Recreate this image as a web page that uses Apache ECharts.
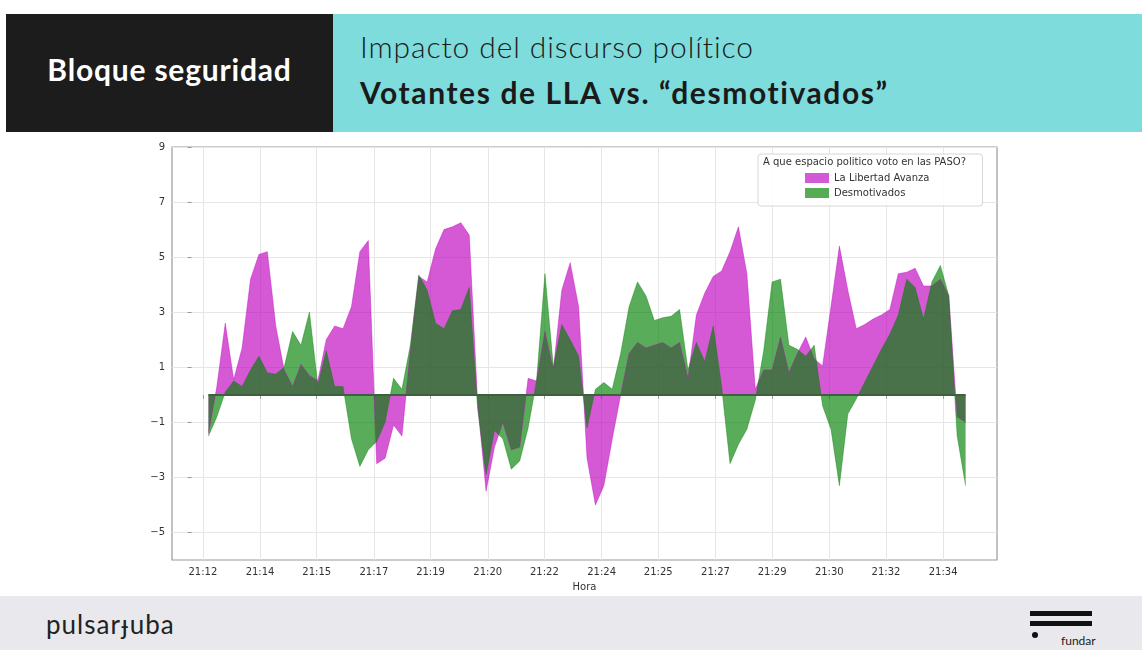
<!DOCTYPE html>
<html>
<head>
<meta charset="utf-8">
<script src="https://cdn.jsdelivr.net/npm/echarts@6/dist/echarts.min.js"></script>
<style>
  html, body { margin: 0; padding: 0; background: #fff; }
  .page { position: relative; width: 1142px; height: 650px; overflow: hidden; background: #fff; }
  .hdr-left { position: absolute; left: 6px; top: 14px; width: 327px; height: 118px; background: #1c1c1c; }
  .hdr-left span { position: absolute; left: 0; right: 0; top: 37px; text-align: center; color: #fff;
    font: 700 30px 'Lato', sans-serif; letter-spacing: 0.8px; }
  .hdr-right { position: absolute; left: 333px; top: 14px; right: 0; height: 118px; background: #7fdcdc; }
  .hdr-right .l1 { position: absolute; left: 27px; top: 14px; color: #1a1a1a; font: 300 30px 'Lato', sans-serif; letter-spacing: 0.9px; }
  .hdr-right .l2 { position: absolute; left: 27px; top: 60px; color: #1a1a1a; font: 700 30px 'Lato', sans-serif; letter-spacing: 1.6px; }
  .footer { position: absolute; left: 0; top: 596px; width: 1142px; height: 54px; background: #e9e9ed; }
  .pulsar { position: absolute; left: 46px; top: 12px; color: #222; font: 400 26px 'Lato', 'DejaVu Sans', sans-serif; letter-spacing: 1px; }
  .bar { position: absolute; left: 1030px; width: 62px; height: 5px; background: #111; }
  .dot { position: absolute; left: 1032px; top: 36px; width: 6px; height: 6px; border-radius: 3px; background: #111; }
  .fundar { position: absolute; left: 1061px; top: 37px; color: #222; font: 400 12px 'Lato', sans-serif; }
  #chart { position: absolute; left: 0; top: 0; width: 1142px; height: 650px; }
</style>
</head>
<body>
<div class="page">
  <div class="hdr-left"><span>Bloque seguridad</span></div>
  <div class="hdr-right">
    <div class="l1">Impacto del discurso político</div>
    <div class="l2">Votantes de LLA vs. “desmotivados”</div>
  </div>
  <div class="footer">
    <div class="pulsar">pulsarɟuba</div>
    <div class="bar" style="top:15px"></div>
    <div class="bar" style="top:25px"></div>
    <div class="dot"></div>
    <div class="fundar">fundar</div>
  </div>
  <div id="chart"></div>
</div>
<script>
// tiempo en segundos desde 21:12:00, una muestra cada 15 s
const startSec = 30
const stepSec = 15

const tickSecs = [20, 122, 223, 325, 426, 528, 629, 731, 832, 934, 1035, 1137, 1238, 1340]
const tickLabels = ['21:12', '21:14', '21:15', '21:17', '21:19', '21:20', '21:22', '21:24',
  '21:25', '21:27', '21:29', '21:30', '21:32', '21:34']
const yTicks = [-5, -3, -1, 1, 3, 5, 7, 9]

// La Libertad Avanza
const lla = [
  -1.4, 0.3, 2.6, 0.55, 1.7, 4.2, 5.1, 5.2, 2.5, 0.9,
  0.3, 1.1, 0.7, 0.5, 2.0, 2.5, 2.4, 3.2, 5.2, 5.6,
  -2.5, -2.3, -1.1, -1.5, 1.6, 4.3, 4.1, 5.3, 6.0, 6.1,
  6.25, 5.8, -0.3, -3.5, -1.9, -1.0, -2.0, -1.9, 0.6, 0.5,
  2.3, 0.9, 3.8, 4.8, 3.2, -2.3, -4.0, -3.3, -1.6, 0.0,
  1.5, 1.9, 1.7, 1.8, 1.9, 1.7, 1.9, 0.6, 2.9, 3.7,
  4.3, 4.5, 5.2, 6.1, 4.4, 0.2, 0.9, 0.9, 2.1, 0.8,
  1.5, 2.1, 1.3, 1.05, 3.2, 5.4, 3.8, 2.4, 2.55, 2.75,
  2.9, 3.1, 4.4, 4.45, 4.6, 3.95, 3.95, 4.2, 3.6, -0.8,
  -1.0
]

// Desmotivados
const desmot = [
  -1.5, -0.8, 0.1, 0.5, 0.3, 0.9, 1.4, 0.8, 0.75, 1.0,
  2.3, 1.8, 3.0, 0.35, 1.6, 0.3, 0.3, -1.6, -2.6, -2.0,
  -1.7, -1.0, 0.6, 0.2, 1.8, 4.35, 3.8, 2.6, 2.4, 3.05,
  3.1, 3.9, -0.5, -2.9, -1.3, -1.6, -2.7, -2.4, -1.2, 0.5,
  4.4, 1.0, 2.55, 2.0, 1.4, -1.2, 0.2, 0.45, 0.2, 1.5,
  3.2, 4.1, 3.6, 2.7, 2.8, 2.85, 3.1, 0.9, 1.9, 1.2,
  2.5, 0.3, -2.5, -1.8, -1.25, -0.2, 1.6, 4.1, 4.2, 1.8,
  1.65, 1.4, 1.8, -0.4, -1.25, -3.3, -0.7, -0.15, 0.45, 1.05,
  1.65, 2.2, 2.9, 4.2, 3.9, 2.75, 4.1, 4.7, 3.6, -1.5,
  -3.3
]

const times = lla.map((_, i) => startSec + i * stepSec)
const minus = v => String(v).replace('-', '\u2212')

const chart = echarts.init(document.getElementById('chart'))
chart.setOption({
  animation: false,
  backgroundColor: 'transparent',
  textStyle: { fontFamily: 'DejaVu Sans' },
  grid: {
    left: 172, right: 145, top: 147, bottom: 90,
    show: true, borderColor: '#9a9a9a', borderWidth: 1.2, backgroundColor: '#fff'
  },
  graphic: [{
    type: 'text',
    left: 763, top: 157, z: 100,
    style: { text: 'A que espacio politico voto en las PASO?', fill: '#333', font: '10px "DejaVu Sans"' }
  }],
  legend: {
    left: 758, top: 154,
    orient: 'vertical',
    padding: [19, 53, 8, 47],
    itemWidth: 24, itemHeight: 10, itemGap: 5,
    backgroundColor: 'rgba(255,255,255,0.85)',
    borderColor: '#d6d6d6', borderWidth: 1, borderRadius: 3,
    textStyle: { fontSize: 10, color: '#333', fontFamily: 'DejaVu Sans' },
    data: [
      { name: 'La Libertad Avanza', icon: 'rect' },
      { name: 'Desmotivados', icon: 'rect' }
    ]
  },
  xAxis: {
    type: 'value', min: -35, max: 1436,
    name: 'Hora', nameLocation: 'middle', nameGap: 22,
    nameTextStyle: { fontSize: 10, color: '#333' },
    axisLine: { show: false },
    axisTick: { show: true, length: 4, lineStyle: { color: '#999' }, customValues: tickSecs },
    axisLabel: {
      fontSize: 10, color: '#333', margin: 7, customValues: tickSecs,
      formatter: v => tickLabels[tickSecs.indexOf(v)]
    },
    splitLine: { show: true, lineStyle: { color: '#e6e6e6', width: 1 } }
  },
  yAxis: {
    type: 'value', min: -6, max: 9,
    axisLine: { show: false },
    axisTick: { show: true, length: 4, lineStyle: { color: '#999' }, customValues: yTicks },
    axisLabel: { fontSize: 10, color: '#333', margin: 7, customValues: yTicks, formatter: minus },
    splitLine: { show: true, lineStyle: { color: '#e6e6e6', width: 1 } }
  },
  series: [
    {
      name: 'La Libertad Avanza', type: 'line',
      data: times.map((t, i) => [t, lla[i]]),
      showSymbol: false, symbol: 'none',
      itemStyle: { color: '#d35ad6' },
      lineStyle: { width: 0.8, color: '#bf00bf', opacity: 0.5 },
      areaStyle: { color: '#bf00bf', opacity: 0.65 }
    },
    {
      name: 'Desmotivados', type: 'line',
      data: times.map((t, i) => [t, desmot[i]]),
      showSymbol: false, symbol: 'none',
      itemStyle: { color: '#55ac55' },
      lineStyle: { width: 0.8, color: '#008000', opacity: 0.5 },
      areaStyle: { color: '#008000', opacity: 0.65 },
      markLine: {
        silent: true, symbol: 'none', label: { show: false },
        lineStyle: { color: '#3f603f', width: 2, type: 'solid' },
        data: [[{ coord: [times[0], 0] }, { coord: [times[times.length - 1], 0] }]]
      }
    }
  ]
})
</script>
</body>
</html>
